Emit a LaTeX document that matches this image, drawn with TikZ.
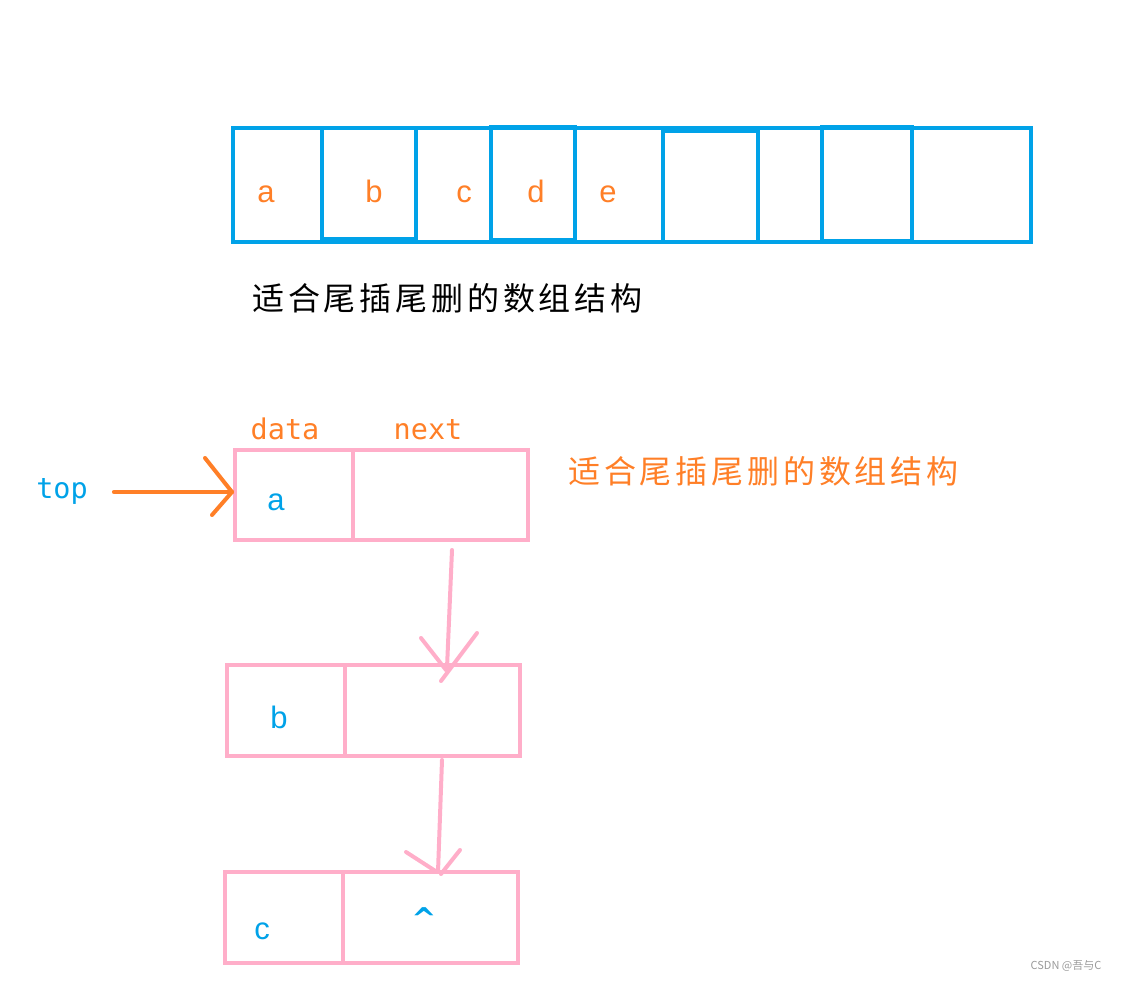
\documentclass[tikz,border=0pt]{standalone}
\usepackage{fontspec}
\setmainfont{Liberation Sans}
\newfontfamily\cjkfont[LetterSpace=12]{Noto Sans CJK SC}
\newfontfamily\wmfont{Noto Sans CJK SC}
\newfontfamily\monofont{DejaVu Sans Mono}
\newfontfamily\caretfont{DejaVu Sans}
\definecolor{arrblue}{HTML}{00A2E8}
\definecolor{lorange}{HTML}{FF7F27}
\definecolor{lpink}{HTML}{FFAEC9}
\definecolor{wmgray}{HTML}{9A9A9A}
\begin{document}
\begin{tikzpicture}[x=1pt,y=-1pt,
  cellbox/.style={draw=arrblue, line width=4pt, inner sep=0pt, outer sep=0pt, anchor=north west},
  pinkbox/.style={draw=lpink, line width=4pt, inner sep=0pt, outer sep=0pt, anchor=north west},
  arrletter/.style={text=lorange, font=\fontsize{31}{31}\selectfont, inner sep=0pt, anchor=base},
  listletter/.style={text=arrblue, font=\fontsize{31}{31}\selectfont, inner sep=0pt, anchor=base},
  monolabel/.style={font=\monofont\fontsize{28.5}{28.5}\selectfont, inner sep=0pt, anchor=base},
  cnlabel/.style={font=\cjkfont\fontsize{32}{32}\selectfont, inner sep=0pt, anchor=west},
  pinkline/.style={draw=lpink, line width=4pt, line cap=round},
  orangeline/.style={draw=lorange, line width=4pt, line cap=round}]
\useasboundingbox (0,0) rectangle (1122,981);

% array
\node[cellbox, minimum width=798pt, minimum height=114pt] (arr) at (233,128) {};
\node[cellbox, minimum width=94pt, minimum height=111pt] (bb) at (322,128) {};
\node[cellbox, minimum width=84pt, minimum height=113pt] (bd) at (491,127) {};
\node[cellbox, minimum width=95pt, minimum height=111pt] (b6) at (663,131) {};
\node[cellbox, minimum width=90pt, minimum height=114pt] (b8) at (822,127) {};
\node[arrletter] (la) at (266,203) {a};
\node[arrletter] (lb) at (374,203) {b};
\node[arrletter] (lc) at (464,203) {c};
\node[arrletter] (ld) at (536,203) {d};
\node[arrletter] (le) at (608,203) {e};

\node[cnlabel] (cn1) at (252,298) {适合尾插尾删的数组结构};

% linked list
\node[monolabel, text=lorange] (data) at (285,439) {data};
\node[monolabel, text=lorange] (next) at (428,439) {next};
\node[monolabel, text=arrblue] (top) at (62,498) {top};
\node[cnlabel, text=lorange] (cn2) at (568,471) {适合尾插尾删的数组结构};

\node[pinkbox, minimum width=118pt, minimum height=90pt] (nad) at (235,450) {};
\node[pinkbox, minimum width=175pt, minimum height=90pt] (nan) at (353,450) {};
\node[pinkbox, minimum width=118pt, minimum height=91pt] (nbd) at (227,665) {};
\node[pinkbox, minimum width=175pt, minimum height=91pt] (nbn) at (345,665) {};
\node[pinkbox, minimum width=118pt, minimum height=91pt] (ncd) at (225,872) {};
\node[pinkbox, minimum width=175pt, minimum height=91pt] (ncn) at (343,872) {};

\node[listletter] (va) at (276,510) {a};
\node[listletter] (vb) at (279,728) {b};
\node[listletter] (vc) at (262,939) {c};
\node[text=arrblue, font=\caretfont\bfseries\fontsize{30}{30}\selectfont, inner sep=0pt, anchor=base] (vn) at (424,929) {\textasciicircum};

% top arrow
\coordinate (t0) at ([shift={(-3,-3)}]nad.west);
\draw[orangeline] ([shift={(26,0)}]top.east |- t0) -- (t0);
\draw[orangeline] (t0) -- ++(-27,-34);
\draw[orangeline] (t0) -- ++(-20,23);

% pink arrows
\coordinate (t1) at ([shift={(14.5,3)}]nbn.north);
\draw[pinkline] ([shift={(11.5,10)}]nan.south) -- (t1);
\draw[pinkline] ([shift={(-1,2)}]t1) -- ++(-25,-32);
\draw[pinkline] ([shift={(-6,13)}]t1) -- ++(36,-48);

\coordinate (t2) at ([shift={(7.5,0)}]ncn.north);
\draw[pinkline] ([shift={(9.5,4)}]nbn.south) -- (t2);
\draw[pinkline] ([shift={(-1,0)}]t2) -- ++(-31,-20);
\draw[pinkline] ([shift={(3,2)}]t2) -- ++(19,-24);

\node[font=\wmfont\fontsize{11}{11}\selectfont, text=wmgray, inner sep=0pt] (wm) at (1066,966) {CSDN @吾与C};
\end{tikzpicture}
\end{document}
